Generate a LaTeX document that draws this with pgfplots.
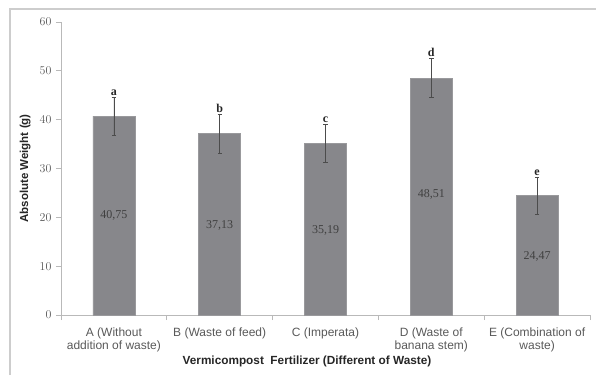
\documentclass[border=0pt]{standalone}
\usepackage{pgfplots}
\pgfplotsset{compat=1.18}
\usepackage{fontspec}
\setmainfont{Liberation Sans}
\newfontfamily\calibri{Carlito}
\newfontfamily\tnr{Liberation Serif}
\definecolor{barc}{RGB}{135,135,139}
\definecolor{axc}{RGB}{185,185,185}
\definecolor{framec}{RGB}{205,205,205}
\definecolor{tickc}{RGB}{89,89,89}
\begin{document}
\begin{tikzpicture}
\useasboundingbox (0,0) rectangle (596pt,375pt);
\draw[color=framec, line width=1.2pt] (10pt,0pt) -- (10pt,366pt) -- (596pt,366pt);
\begin{axis}[
  at={(61pt,60pt)}, anchor=south west,
  scale only axis, width=529pt, height=293pt,
  xmin=-0.5, xmax=4.5, ymin=0, ymax=60,
  axis x line*=bottom, axis y line*=left,
  axis line style={color=axc, line width=0.8pt, -},
  ytick={0,10,...,60},
  xtick={0,1,2,3,4},
  xticklabels={{A (Without\\addition of waste)},{B (Waste of feed)},{C (Imperata)},{D (Waste of\\banana stem)},{E (Combination of\\waste)}},
  minor xtick={-0.5,0.5,1.5,2.5,3.5,4.5},
  major tick length=5pt,
  minor tick length=5pt,
  tick align=outside,
  tick style={color=axc, line width=0.8pt},
  major x tick style={draw=none},
  yticklabel style={font=\calibri\fontsize{13}{14}\selectfont, text=tickc, xshift=-1pt},
  xticklabel style={font=\fontsize{12}{13.5}\selectfont, text=tickc, align=center, yshift=-4pt},
  xlabel={Vermicompost\ \ Fertilizer (Different of Waste)},
  ylabel={Absolute Weight (g)},
  xlabel style={font=\bfseries\fontsize{11.8}{13}\selectfont, text=black!85, at={(axis description cs:0.465,0)}, anchor=north, yshift=-37pt},
  ylabel style={font=\bfseries\fontsize{11.5}{13}\selectfont, text=black!85, at={(axis description cs:0,0.5)}, anchor=south, yshift=27pt},
  clip=false,
]
\addplot[ybar, bar width=42pt, fill=barc, draw=barc!85!white, line width=0.5pt,
  error bars/.cd, y dir=both, y explicit,
  error bar style={color=black!70, line width=0.8pt},
  error mark options={rotate=90, mark size=2.2pt, line width=0.8pt, color=black!70}]
  coordinates {
  (0,40.75) +- (0,3.9)
  (1,37.13) +- (0,4.0)
  (2,35.19) +- (0,3.9)
  (3,48.51) +- (0,4.0)
  (4,24.47) +- (0,3.8)
  };
\addplot[only marks, mark=none, nodes near coords, point meta=explicit symbolic,
  nodes near coords style={font=\tnr\bfseries\fontsize{12}{13}\selectfont, text=black!85, anchor=south, inner sep=1.5pt}]
  table[meta=l] {
  x y l
  0 44.65 a
  1 41.13 b
  2 39.09 c
  3 52.51 d
  4 28.27 e
  };
\addplot[only marks, mark=none, nodes near coords, point meta=explicit symbolic,
  nodes near coords style={font=\tnr\fontsize{12}{13}\selectfont, text=black!75, anchor=center}]
  table[meta=l] {
  x y l
  0 20.3 40,75
  1 18.4 37,13
  2 17.4 35,19
  3 24.6 48,51
  4 11.9 24,47
  };
\end{axis}
\end{tikzpicture}
\end{document}
